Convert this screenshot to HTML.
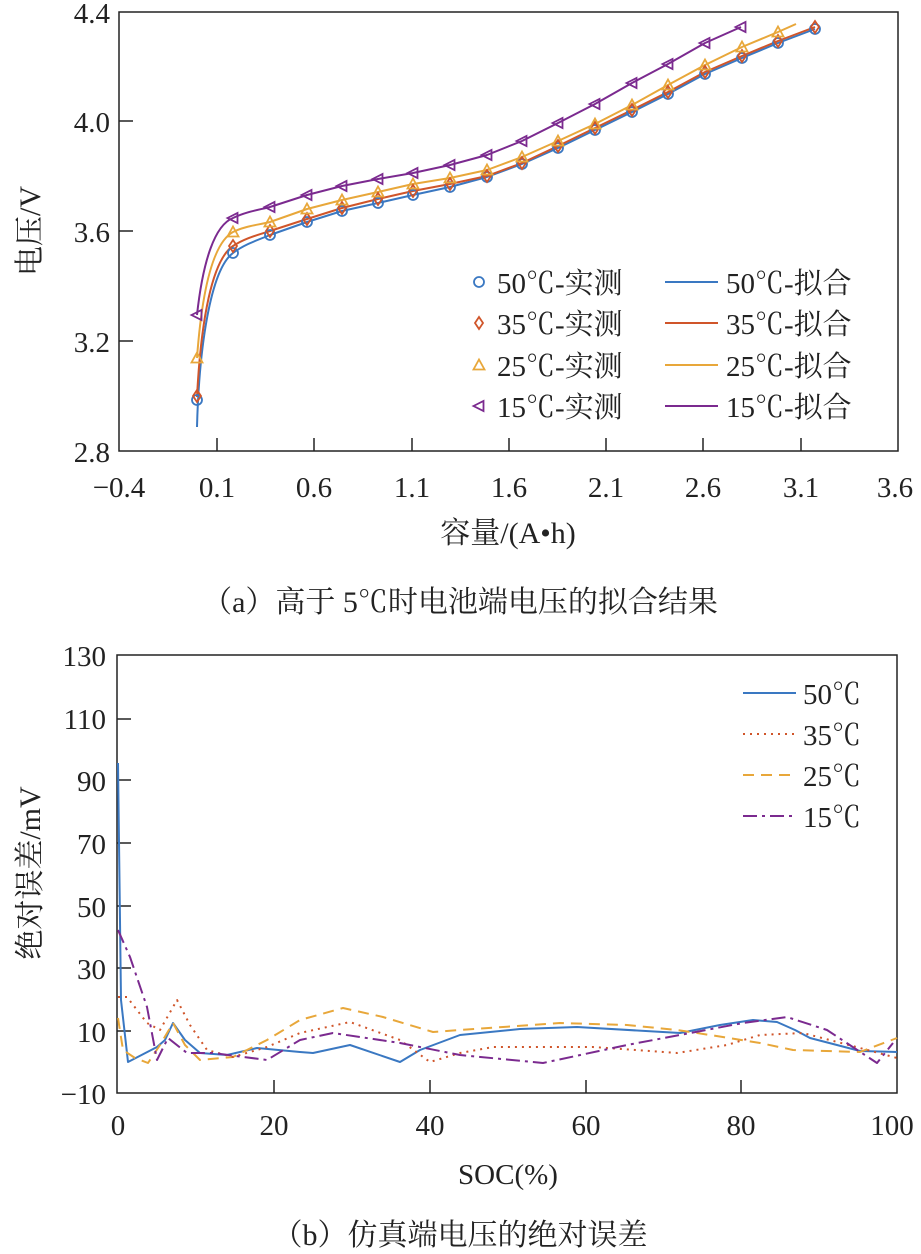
<!DOCTYPE html>
<html><head><meta charset="utf-8"><style>
html,body{margin:0;padding:0;background:#fff;}
svg{display:block;}
text{font-family:"Liberation Serif","Noto Serif CJK SC","Noto Sans CJK SC",serif;fill:#222;}
</style></head><body>
<svg width="921" height="1254" viewBox="0 0 921 1254" xmlns="http://www.w3.org/2000/svg">
<defs>
<circle id="mc" r="5" fill="none" stroke="#3a78c2" stroke-width="1.8"/>
<path id="md" d="M0,-6 L4,0 L0,6 L-4,0Z" fill="none" stroke="#d0552a" stroke-width="1.8"/>
<path id="mt" d="M0,-5.5 L5.5,4.5 L-5.5,4.5Z" fill="none" stroke="#e8a73a" stroke-width="1.8"/>
<path id="ml" d="M-5.5,0 L4.5,-5 L4.5,5Z" fill="none" stroke="#7b2a8f" stroke-width="1.8"/>
</defs>

<!-- ===== Top chart ===== -->
<rect x="119" y="12" width="779" height="439" fill="none" stroke="#222" stroke-width="1.5"/>
<g stroke="#222" stroke-width="1.5">
<line x1="217" y1="451" x2="217" y2="438"/><line x1="314" y1="451" x2="314" y2="438"/>
<line x1="412" y1="451" x2="412" y2="438"/><line x1="509" y1="451" x2="509" y2="438"/>
<line x1="606" y1="451" x2="606" y2="438"/><line x1="703" y1="451" x2="703" y2="438"/>
<line x1="801" y1="451" x2="801" y2="438"/>
<line x1="119" y1="121" x2="133" y2="121"/><line x1="119" y1="231" x2="133" y2="231"/>
<line x1="119" y1="341" x2="133" y2="341"/>
</g>
<g font-size="29" text-anchor="end">
<text x="110" y="23">4.4</text><text x="110" y="132">4.0</text>
<text x="110" y="242">3.6</text><text x="110" y="352">3.2</text><text x="110" y="462">2.8</text>
</g>
<g font-size="29" text-anchor="middle">
<text x="119" y="497">−0.4</text><text x="217" y="497">0.1</text><text x="314" y="497">0.6</text>
<text x="412" y="497">1.1</text><text x="509" y="497">1.6</text><text x="606" y="497">2.1</text>
<text x="703" y="497">2.6</text><text x="801" y="497">3.1</text><text x="895" y="497">3.6</text>
</g>
<text x="508" y="543" font-size="30" text-anchor="middle">容量/(A•h)</text>
<text transform="translate(40,231) rotate(-90)" font-size="30" text-anchor="middle">电压/V</text>
<text x="460" y="612" font-size="30" text-anchor="middle">（a）高于 5℃时电池端电压的拟合结果</text>

<g fill="none" stroke-width="2" stroke-linejoin="round">
<path stroke="#3a78c2" d="M197,427 C199,350 210,270 233,253 C245,244 258,240 270,235 L307,222 L342,211 L378,203 L413,195 L450,187 L487,177 L522,164 L558,148 L595,130 L632,112 L668,94 L705,74 L742,58 L778,43 L815,29"/>
<path stroke="#d0552a" d="M197,397 C201,320 212,260 233,246 C245,238 258,235 270,231 L307,219 L342,208 L378,199 L413,191 L450,184 L487,176 L522,163 L558,146 L595,128 L632,110 L668,92 L705,72 L742,56 L778,41 L815,27"/>
<path stroke="#e8a73a" d="M197,358 C202,290 213,243 233,232 C245,226 258,225 270,222 L307,209 L342,200 L378,192 L413,184 L450,178 L487,170 L522,157 L558,141 L595,124 L632,105 L668,85 L705,65 L742,47 L778,32 L796,24"/>
<path stroke="#7b2a8f" d="M197,315 C203,260 215,225 233,218 C245,212 258,210 270,207 L307,195 L342,186 L378,179 L413,173 L450,165 L487,155 L522,141 L558,123 L595,104 L632,83 L668,64 L705,43 L741,27"/>
</g>
<g>
<use href="#mc" x="197" y="400"/><use href="#mc" x="233" y="253"/><use href="#mc" x="270" y="235"/><use href="#mc" x="307" y="222"/><use href="#mc" x="342" y="211"/><use href="#mc" x="378" y="203"/><use href="#mc" x="413" y="195"/><use href="#mc" x="450" y="187"/><use href="#mc" x="487" y="177"/><use href="#mc" x="522" y="164"/><use href="#mc" x="558" y="148"/><use href="#mc" x="595" y="130"/><use href="#mc" x="632" y="112"/><use href="#mc" x="668" y="94"/><use href="#mc" x="705" y="74"/><use href="#mc" x="742" y="58"/><use href="#mc" x="778" y="43"/><use href="#mc" x="815" y="29"/>
<use href="#md" x="197" y="396"/><use href="#md" x="233" y="246"/><use href="#md" x="270" y="231"/><use href="#md" x="307" y="219"/><use href="#md" x="342" y="208"/><use href="#md" x="378" y="199"/><use href="#md" x="413" y="191"/><use href="#md" x="450" y="184"/><use href="#md" x="487" y="176"/><use href="#md" x="522" y="163"/><use href="#md" x="558" y="146"/><use href="#md" x="595" y="128"/><use href="#md" x="632" y="110"/><use href="#md" x="668" y="92"/><use href="#md" x="705" y="72"/><use href="#md" x="742" y="56"/><use href="#md" x="778" y="41"/><use href="#md" x="815" y="27"/>
<use href="#mt" x="197" y="358"/><use href="#mt" x="233" y="232"/><use href="#mt" x="270" y="222"/><use href="#mt" x="307" y="209"/><use href="#mt" x="342" y="200"/><use href="#mt" x="378" y="192"/><use href="#mt" x="413" y="184"/><use href="#mt" x="450" y="178"/><use href="#mt" x="487" y="170"/><use href="#mt" x="522" y="157"/><use href="#mt" x="558" y="141"/><use href="#mt" x="595" y="124"/><use href="#mt" x="632" y="105"/><use href="#mt" x="668" y="85"/><use href="#mt" x="705" y="65"/><use href="#mt" x="742" y="47"/><use href="#mt" x="778" y="32"/>
<use href="#ml" x="197" y="315"/><use href="#ml" x="233" y="218"/><use href="#ml" x="270" y="207"/><use href="#ml" x="307" y="195"/><use href="#ml" x="342" y="186"/><use href="#ml" x="378" y="179"/><use href="#ml" x="413" y="173"/><use href="#ml" x="450" y="165"/><use href="#ml" x="487" y="155"/><use href="#ml" x="522" y="141"/><use href="#ml" x="558" y="123"/><use href="#ml" x="595" y="104"/><use href="#ml" x="632" y="83"/><use href="#ml" x="668" y="64"/><use href="#ml" x="705" y="43"/><use href="#ml" x="741" y="27"/>
</g>
<!-- top legend -->
<use href="#mc" x="479" y="282"/><use href="#md" x="479" y="323"/><use href="#mt" x="479" y="365"/><use href="#ml" x="479" y="406"/>
<g stroke-width="2">
<line x1="665" y1="282" x2="718" y2="282" stroke="#3a78c2"/>
<line x1="665" y1="323" x2="718" y2="323" stroke="#d0552a"/>
<line x1="665" y1="365" x2="718" y2="365" stroke="#e8a73a"/>
<line x1="665" y1="406" x2="718" y2="406" stroke="#7b2a8f"/>
</g>
<g font-size="29">
<text x="497" y="293">50℃-实测</text><text x="497" y="334">35℃-实测</text>
<text x="497" y="376">25℃-实测</text><text x="497" y="417">15℃-实测</text>
<text x="726" y="293">50℃-拟合</text><text x="726" y="334">35℃-拟合</text>
<text x="726" y="376">25℃-拟合</text><text x="726" y="417">15℃-拟合</text>
</g>

<!-- ===== Bottom chart ===== -->
<rect x="117" y="655" width="780" height="438" fill="none" stroke="#222" stroke-width="1.5"/>
<g stroke="#222" stroke-width="1.5">
<line x1="274" y1="1093" x2="274" y2="1080"/><line x1="430" y1="1093" x2="430" y2="1080"/>
<line x1="586" y1="1093" x2="586" y2="1080"/><line x1="741" y1="1093" x2="741" y2="1080"/>
<line x1="117" y1="719" x2="131" y2="719"/><line x1="117" y1="780" x2="131" y2="780"/>
<line x1="117" y1="843" x2="131" y2="843"/><line x1="117" y1="906" x2="131" y2="906"/>
<line x1="117" y1="968" x2="131" y2="968"/><line x1="117" y1="1031" x2="131" y2="1031"/>
</g>
<g font-size="29" text-anchor="end">
<text x="106" y="666">130</text><text x="106" y="729">110</text><text x="106" y="791">90</text>
<text x="106" y="854">70</text><text x="106" y="917">50</text><text x="106" y="979">30</text>
<text x="106" y="1042">10</text><text x="106" y="1104">−10</text>
</g>
<g font-size="29" text-anchor="middle">
<text x="118" y="1135">0</text><text x="274" y="1135">20</text><text x="430" y="1135">40</text>
<text x="586" y="1135">60</text><text x="741" y="1135">80</text><text x="892" y="1135">100</text>
</g>
<text x="508" y="1184" font-size="29" text-anchor="middle">SOC(%)</text>
<text transform="translate(40,873) rotate(-90)" font-size="30" text-anchor="middle">绝对误差/mV</text>
<text x="460" y="1245" font-size="30" text-anchor="middle">（b）仿真端电压的绝对误差</text>

<g fill="none" stroke-width="2" stroke-linejoin="round">
<path stroke="#3a78c2" d="M118,763 L121,1000 L128,1062 L157,1047 L165,1040 L173,1023 L185,1040 L200,1053 L227,1055 L257,1048 L300,1052 L313,1053 L350,1045 L400,1062 L420,1050 L460,1035 L520,1029 L577,1027 L680,1033 L720,1025 L753,1020 L777,1022 L795,1030 L810,1038 L860,1051 L897,1052"/>
<path stroke="#e8a73a" stroke-dasharray="11,7" d="M118,1018 L123,1050 L135,1058 L148,1063 L160,1045 L173,1023 L185,1045 L200,1060 L233,1057 L267,1040 L300,1020 L343,1008 L383,1017 L433,1032 L460,1030 L560,1023 L627,1025 L677,1030 L710,1035 L760,1043 L793,1050 L860,1052 L897,1038"/>
<path stroke="#d0552a" stroke-dasharray="2,5" d="M118,997 L127,997 L147,1023 L160,1030 L177,1000 L190,1025 L207,1050 L233,1057 L267,1047 L300,1033 L350,1022 L400,1040 L430,1062 L460,1053 L493,1047 L593,1047 L677,1053 L727,1045 L760,1035 L803,1033 L860,1048 L897,1058"/>
<path stroke="#7b2a8f" stroke-dasharray="14,5,3,5" d="M118,930 L130,957 L147,1007 L157,1060 L168,1038 L187,1053 L213,1053 L267,1060 L300,1040 L333,1033 L400,1043 L460,1055 L543,1063 L627,1045 L743,1023 L787,1017 L827,1030 L877,1063 L893,1043"/>
</g>
<!-- bottom legend -->
<g stroke-width="2">
<line x1="743" y1="693" x2="796" y2="693" stroke="#3a78c2"/>
<line x1="743" y1="734" x2="796" y2="734" stroke="#d0552a" stroke-dasharray="2,5"/>
<line x1="743" y1="775" x2="796" y2="775" stroke="#e8a73a" stroke-dasharray="11,7"/>
<line x1="743" y1="816" x2="796" y2="816" stroke="#7b2a8f" stroke-dasharray="14,5,3,5"/>
</g>
<g font-size="29">
<text x="803" y="704">50℃</text><text x="803" y="745">35℃</text>
<text x="803" y="786">25℃</text><text x="803" y="827">15℃</text>
</g>
</svg>
</body></html>
